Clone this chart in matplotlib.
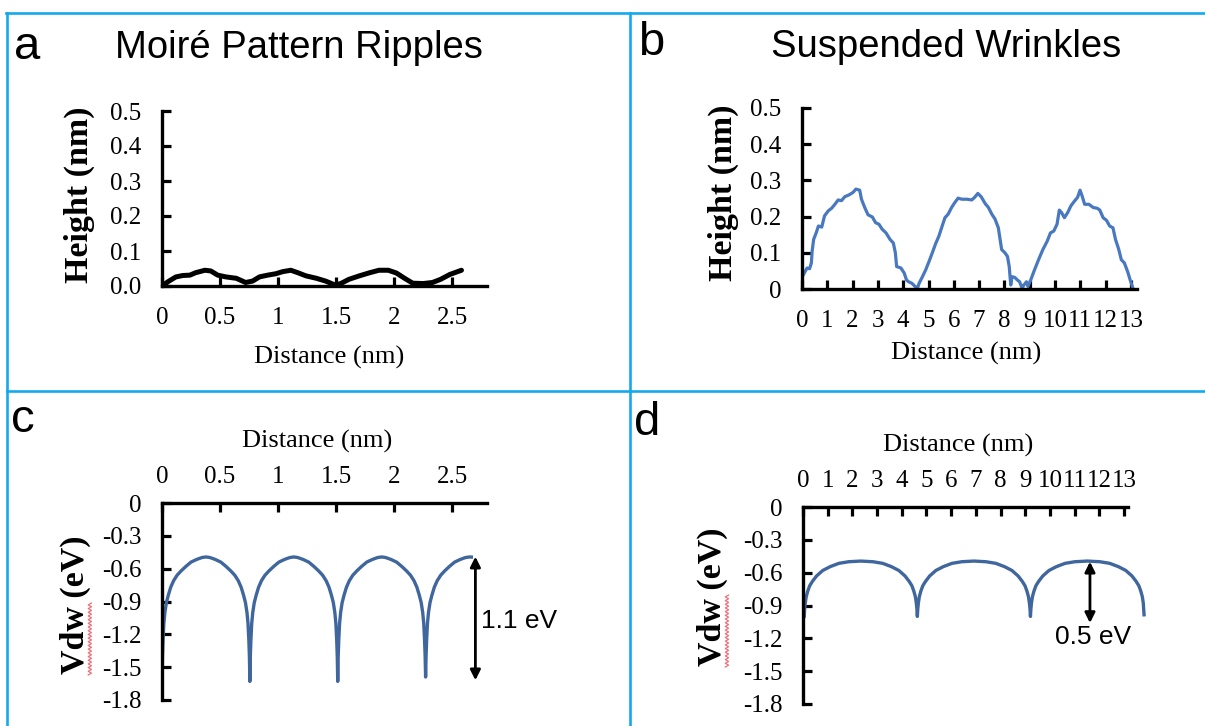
import numpy as np
import matplotlib
matplotlib.use("Agg")
import matplotlib.pyplot as plt
from matplotlib.lines import Line2D

SANS = "Liberation Sans"
SERIF = "Liberation Serif"
BORDER = "#14A9EC"

# ---- data ----
# a: moire pattern ripples (height profile)
a_dist = [0.02, 0.06, 0.12, 0.18, 0.24, 0.29, 0.37, 0.42, 0.48, 0.55, 0.64, 0.72,
          0.78, 0.84, 0.91, 0.98, 1.04, 1.11, 1.17, 1.24, 1.33, 1.41, 1.49, 1.54,
          1.61, 1.70, 1.79, 1.87, 1.95, 2.02, 2.09, 2.16, 2.25, 2.33, 2.40, 2.48, 2.58]
a_height = [0.005, 0.014, 0.026, 0.030, 0.031, 0.038, 0.045, 0.043, 0.031, 0.026, 0.022, 0.010,
            0.014, 0.026, 0.031, 0.035, 0.041, 0.045, 0.038, 0.029, 0.022, 0.014, 0.003, 0.007,
            0.019, 0.029, 0.038, 0.045, 0.045, 0.037, 0.022, 0.008, 0.007, 0.010, 0.019, 0.033, 0.045]

# b: suspended wrinkles (height profile)
b_dist = [0.00, 0.09, 0.20, 0.30, 0.37, 0.40, 0.46, 0.56, 0.65, 0.78, 0.89, 1.04, 1.17, 1.30,
          1.43, 1.56, 1.69, 1.86, 2.02, 2.13, 2.28, 2.35, 2.48, 2.61, 2.78, 2.91, 3.04, 3.17,
          3.32, 3.48, 3.61, 3.69, 3.74, 3.91, 4.04, 4.13, 4.21, 4.34, 4.47, 4.56, 4.63, 4.76,
          4.89, 5.02, 5.15, 5.28, 5.41, 5.54, 5.65, 5.78, 5.91, 6.04, 6.17, 6.32, 6.52, 6.71,
          6.82, 6.95, 7.08, 7.24, 7.37, 7.50, 7.63, 7.76, 7.89, 8.02, 8.12, 8.19, 8.25, 8.30,
          8.41, 8.51, 8.60, 8.70, 8.77, 8.87, 8.93, 9.04, 9.19, 9.35, 9.52, 9.69, 9.82, 9.95,
          10.08, 10.17, 10.26, 10.37, 10.50, 10.63, 10.76, 10.89, 10.99, 11.08, 11.17, 11.34,
          11.51, 11.67, 11.77, 11.90, 12.03, 12.16, 12.29, 12.39, 12.52, 12.62, 12.74, 12.87,
          12.97, 13.08]
b_height = [0.032, 0.044, 0.058, 0.056, 0.072, 0.104, 0.137, 0.155, 0.174, 0.171, 0.202, 0.216,
            0.223, 0.234, 0.246, 0.244, 0.255, 0.260, 0.267, 0.276, 0.273, 0.248, 0.225, 0.205,
            0.199, 0.183, 0.179, 0.165, 0.155, 0.137, 0.127, 0.100, 0.062, 0.058, 0.044, 0.025,
            0.020, 0.016, 0.007, 0.002, 0.016, 0.034, 0.053, 0.076, 0.100, 0.125, 0.146, 0.174,
            0.197, 0.207, 0.225, 0.239, 0.251, 0.248, 0.248, 0.246, 0.253, 0.264, 0.255, 0.236,
            0.225, 0.207, 0.193, 0.169, 0.109, 0.100, 0.090, 0.062, 0.011, 0.034, 0.032, 0.025,
            0.020, 0.002, 0.011, 0.020, 0.007, 0.025, 0.053, 0.081, 0.109, 0.132, 0.155, 0.160,
            0.179, 0.218, 0.211, 0.197, 0.211, 0.230, 0.242, 0.253, 0.273, 0.255, 0.234, 0.234,
            0.225, 0.223, 0.218, 0.197, 0.190, 0.174, 0.169, 0.137, 0.109, 0.081, 0.072, 0.048,
            0.025, 0.002]

# c: Vdw energy along moire ripples
c_dist = [0.000, 0.004, 0.009, 0.016, 0.025, 0.038, 0.055, 0.075, 0.100, 0.130, 0.165, 0.205,
          0.250, 0.300, 0.345, 0.379, 0.412, 0.457, 0.507, 0.552, 0.592, 0.627, 0.657, 0.682,
          0.702, 0.719, 0.732, 0.741, 0.748, 0.753,
          0.757, 0.761, 0.766, 0.773, 0.782, 0.795, 0.812, 0.832, 0.857, 0.887, 0.922, 0.962,
          1.007, 1.057, 1.102, 1.136, 1.169, 1.214, 1.264, 1.309, 1.349, 1.384, 1.414, 1.439,
          1.459, 1.476, 1.489, 1.498, 1.505, 1.510,
          1.514, 1.518, 1.523, 1.530, 1.539, 1.552, 1.569, 1.589, 1.614, 1.644, 1.679, 1.719,
          1.764, 1.814, 1.859, 1.893, 1.926, 1.971, 2.021, 2.066, 2.106, 2.141, 2.171, 2.196,
          2.216, 2.233, 2.246, 2.255, 2.262, 2.267,
          2.271, 2.275, 2.280, 2.287, 2.296, 2.309, 2.326, 2.346, 2.371, 2.401, 2.436, 2.476,
          2.521, 2.571, 2.616, 2.650, 2.665]
c_vdw = [-1.62, -1.40, -1.25, -1.10, -1.00, -0.91, -0.84, -0.77, -0.71, -0.66, -0.62, -0.58,
         -0.54, -0.515, -0.498, -0.493, -0.498, -0.515, -0.54, -0.58, -0.62, -0.66, -0.71, -0.77,
         -0.84, -0.91, -1.00, -1.10, -1.25, -1.40,
         -1.63, -1.40, -1.25, -1.10, -1.00, -0.91, -0.84, -0.77, -0.71, -0.66, -0.62, -0.58,
         -0.54, -0.515, -0.498, -0.493, -0.498, -0.515, -0.54, -0.58, -0.62, -0.66, -0.71, -0.77,
         -0.84, -0.91, -1.00, -1.10, -1.25, -1.40,
         -1.63, -1.40, -1.25, -1.10, -1.00, -0.91, -0.84, -0.77, -0.71, -0.66, -0.62, -0.58,
         -0.54, -0.515, -0.498, -0.493, -0.498, -0.515, -0.54, -0.58, -0.62, -0.66, -0.71, -0.77,
         -0.84, -0.91, -1.00, -1.10, -1.25, -1.40,
         -1.59, -1.40, -1.25, -1.10, -1.00, -0.91, -0.84, -0.77, -0.71, -0.66, -0.62, -0.58,
         -0.54, -0.515, -0.498, -0.493, -0.494]

# d: Vdw energy along suspended wrinkles
d_dist = [0.05, 0.065, 0.09, 0.13, 0.19, 0.27, 0.38, 0.55, 0.80, 1.10, 1.45, 1.85, 2.34,
          2.83, 3.23, 3.58, 3.88, 4.13, 4.30, 4.41, 4.49, 4.55, 4.59, 4.615,
          4.63, 4.645, 4.67, 4.71, 4.77, 4.85, 4.96, 5.13, 5.38, 5.68, 6.03, 6.43, 6.92,
          7.41, 7.81, 8.16, 8.46, 8.71, 8.88, 8.99, 9.07, 9.13, 9.17, 9.195,
          9.21, 9.225, 9.25, 9.29, 9.35, 9.43, 9.54, 9.71, 9.96, 10.26, 10.61, 11.01, 11.51,
          12.02, 12.42, 12.77, 13.07, 13.32, 13.49, 13.60, 13.68, 13.74, 13.78, 13.81]
d_vdw = [-1.00, -0.94, -0.88, -0.82, -0.77, -0.72, -0.68, -0.63, -0.58, -0.545, -0.515, -0.50, -0.494,
         -0.50, -0.515, -0.545, -0.58, -0.63, -0.68, -0.72, -0.77, -0.82, -0.88, -0.94,
         -1.00, -0.94, -0.88, -0.82, -0.77, -0.72, -0.68, -0.63, -0.58, -0.545, -0.515, -0.50, -0.494,
         -0.50, -0.515, -0.545, -0.58, -0.63, -0.68, -0.72, -0.77, -0.82, -0.88, -0.94,
         -1.00, -0.94, -0.88, -0.82, -0.77, -0.72, -0.68, -0.63, -0.58, -0.545, -0.515, -0.50, -0.494,
         -0.50, -0.515, -0.545, -0.58, -0.63, -0.68, -0.72, -0.77, -0.82, -0.88, -0.985]

moire_xticks = [0, 0.5, 1, 1.5, 2, 2.5]
moire_xlabels = ["0", "0.5", "1", "1.5", "2", "2.5"]
wrinkle_xticks = list(range(14))
height_yticks = [0, 0.1, 0.2, 0.3, 0.4, 0.5]
a_ylabels = ["0.0", "0.1", "0.2", "0.3", "0.4", "0.5"]
b_ylabels = ["0", "0.1", "0.2", "0.3", "0.4", "0.5"]
vdw_yticks = [0, -0.3, -0.6, -0.9, -1.2, -1.5, -1.8]
vdw_ylabels = ["0", "-0.3", "-0.6", "-0.9", "-1.2", "-1.5", "-1.8"]

W, H = 1205, 726
fig = plt.figure(figsize=(W / 100, H / 100), dpi=100)
fig.patch.set_facecolor("white")


def px_axes(left, top, right, bottom):
    return fig.add_axes([left / W, 1 - bottom / H, (right - left) / W, (bottom - top) / H])


def style(ax, top_axis=False):
    for s in ax.spines.values():
        s.set_linewidth(2.4)
        s.set_color("black")
    ax.spines["right"].set_visible(False)
    if top_axis:
        ax.spines["bottom"].set_visible(False)
        ax.xaxis.tick_top()
        ax.xaxis.set_label_position("top")
    else:
        ax.spines["top"].set_visible(False)
    ax.tick_params(axis="both", direction="in", length=6.5, width=2.3, labelsize=18,
                   pad=15, colors="black")
    if top_axis:
        ax.tick_params(axis="x", pad=11)
    for lab in ax.get_xticklabels() + ax.get_yticklabels():
        lab.set_family(SERIF)


def squiggle(ax, x, y0, y1):
    ys = np.linspace(y0, y1, 40)
    xs = x + np.where(np.arange(40) % 2 == 0, -0.005, 0.005)
    ax.add_line(Line2D(xs, ys, transform=ax.transAxes, color="#F0707A", lw=0.9,
                       clip_on=False))


# ---- panel a ----
ax_a = px_axes(162, 111, 487, 286)
ax_a.plot(a_dist, a_height, color="black", lw=3.6, solid_capstyle="round")
ax_a.set_xlim(0, 2.8)
ax_a.set_ylim(0, 0.5)
ax_a.set_xticks(moire_xticks, moire_xlabels)
ax_a.set_yticks(height_yticks, a_ylabels)
style(ax_a)
ax_a.set_xlabel("Distance (nm)", family=SERIF, fontsize=19)
ax_a.set_ylabel("Height (nm)", family=SERIF, fontsize=24.5, fontweight="bold")
ax_a.xaxis.set_label_coords(0.514, -0.343)
ax_a.yaxis.set_label_coords(-0.206, 0.52)

# ---- panel b ----
ax_b = px_axes(802, 108, 1137, 289)
ax_b.plot(b_dist, b_height, color="#4878C0", lw=2.3)
ax_b.set_xlim(0, 13.24)
ax_b.set_ylim(0, 0.5)
ax_b.set_xticks(wrinkle_xticks, [str(t) for t in wrinkle_xticks])
ax_b.set_yticks(height_yticks, b_ylabels)
style(ax_b)
ax_b.set_xlabel("Distance (nm)", family=SERIF, fontsize=19)
ax_b.set_ylabel("Height (nm)", family=SERIF, fontsize=24.5, fontweight="bold")
ax_b.xaxis.set_label_coords(0.49, -0.293)
ax_b.yaxis.set_label_coords(-0.188, 0.53)

# ---- panel c ----
ax_c = px_axes(162, 503, 487, 700)
ax_c.plot(c_dist, c_vdw, color="#40669E", lw=2.4)
ax_c.set_xlim(0, 2.8)
ax_c.set_ylim(-1.8, 0)
ax_c.set_xticks(moire_xticks, moire_xlabels)
ax_c.set_yticks(vdw_yticks, vdw_ylabels)
style(ax_c, top_axis=True)
ax_c.set_xlabel("Distance (nm)", family=SERIF, fontsize=19)
ax_c.set_ylabel("Vdw (eV)", family=SERIF, fontsize=24.5, fontweight="bold")
ax_c.xaxis.set_label_coords(0.477, 1.279)
ax_c.yaxis.set_label_coords(-0.218, 0.482)
ax_c.annotate("", xy=(2.70, -0.49), xytext=(2.70, -1.62),
              arrowprops=dict(arrowstyle="<|-|>", color="black", lw=2,
                              mutation_scale=15, shrinkA=0, shrinkB=0),
              annotation_clip=False)
ax_c.text(2.745, -1.14, "1.1 eV", family=SANS, fontsize=19, ha="left", va="baseline",
          clip_on=False)
squiggle(ax_c, -0.222, 0.127, 0.492)

# ---- panel d ----
ax_d = px_axes(803, 507, 1128, 704)
ax_d.plot(d_dist, d_vdw, color="#40669E", lw=2.4, clip_on=False)
ax_d.set_xlim(0, 13.16)
ax_d.set_ylim(-1.8, 0)
ax_d.set_xticks(wrinkle_xticks, [str(t) for t in wrinkle_xticks])
ax_d.set_yticks(vdw_yticks, vdw_ylabels)
style(ax_d, top_axis=True)
ax_d.set_xlabel("Distance (nm)", family=SERIF, fontsize=19)
ax_d.set_ylabel("Vdw (eV)", family=SERIF, fontsize=24.5, fontweight="bold")
ax_d.xaxis.set_label_coords(0.477, 1.279)
ax_d.yaxis.set_label_coords(-0.231, 0.543)
ax_d.annotate("", xy=(11.62, -0.50), xytext=(11.62, -1.06),
              arrowprops=dict(arrowstyle="<|-|>", color="black", lw=2,
                              mutation_scale=15, shrinkA=0, shrinkB=0),
              annotation_clip=False)
ax_d.text(10.2, -1.25, "0.5 eV", family=SANS, fontsize=19, ha="left", va="baseline",
          clip_on=False)
squiggle(ax_d, -0.234, 0.188, 0.553)

# ---- titles and panel letters ----
fig.text(299 / W, 1 - 58 / H, "Moiré Pattern Ripples", family=SANS, fontsize=27.5,
         ha="center", va="baseline")
fig.text(946 / W, 1 - 57 / H, "Suspended Wrinkles", family=SANS, fontsize=27.5,
         ha="center", va="baseline")
for letter, lx, ly in [("a", 14, 59), ("b", 638, 55), ("c", 11, 432), ("d", 634, 435)]:
    fig.text(lx / W, 1 - ly / H, letter, family=SANS, fontsize=34, ha="left", va="baseline")

# ---- light blue panel frame ----
frame = [((6, W), (12.5, 12.5)), ((7, 7), (12.5, H)), ((630, 630), (12.5, H)),
         ((7, W), (390.5, 390.5))]
for xs, ys in frame:
    fig.add_artist(Line2D([x / W for x in xs], [1 - y / H for y in ys],
                          transform=fig.transFigure, color=BORDER, lw=1.9))

fig.savefig("out.png", dpi=100, facecolor="white")
